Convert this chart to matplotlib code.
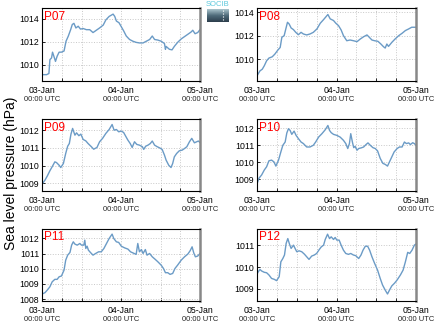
import numpy as np
import matplotlib
matplotlib.use('Agg')
import matplotlib.pyplot as plt
import matplotlib.dates as mdates
import pandas as pd

plt.rcParams['font.family'] = ['Liberation Sans', 'DejaVu Sans']

START = pd.Timestamp('2000-01-03 00:00')
STATIONS = ['P07', 'P08', 'P09', 'P10', 'P11', 'P12']

# hours since 03-Jan 00:00 UTC, sea level pressure (hPa)
p07_h = [0, 1.4, 2.1, 2.4, 2.9, 3.2, 3.6, 4.1, 4.6, 5.2, 5.9, 6.7, 7.3, 8.0, 8.7, 9.2, 9.7,
         10.3, 11.0, 11.7, 12.5, 13.5, 14.5, 15.5, 16.5, 17.5, 18.6, 19.4, 20.4, 21.6, 22.1,
         22.6, 23.4, 24.1, 24.8, 25.6, 26.6, 27.6, 28.6, 29.6, 30.7, 31.7, 32.7, 33.5, 34.2,
         35.2, 36.2, 37.2, 37.5, 37.7, 38.7, 39.5, 40.2, 41.2, 42.3, 43.3, 44.3, 45.3, 45.8,
         46.5, 47.3, 48]
p07_v = [1009.15, 1009.15, 1009.25, 1010.45, 1010.6, 1011.1, 1010.75, 1010.3, 1010.75,
         1011.1, 1011.1, 1011.2, 1012.05, 1012.5, 1013.05, 1013.5, 1013.6, 1013.2, 1013.35,
         1013.1, 1013.15, 1013.05, 1013.05, 1012.8, 1013.0, 1013.2, 1013.45, 1013.9, 1014.2,
         1014.4, 1014.2, 1013.8, 1013.65, 1013.3, 1012.95, 1012.5, 1012.2, 1012.05, 1011.95,
         1011.9, 1011.9, 1012.05, 1012.2, 1012.5, 1012.2, 1012.15, 1012.05, 1011.85, 1011.35,
         1011.6, 1011.35, 1011.3, 1011.6, 1011.95, 1012.25, 1012.45, 1012.65, 1012.85, 1013.0,
         1012.7, 1012.8, 1013.05]

p08_h = [0, 0.9, 1.6, 2.2, 2.9, 3.6, 4.6, 5.4, 6.3, 7.0, 7.5, 8.2, 8.7, 9.2, 9.7, 10.3, 11.0,
         11.7, 12.5, 13.3, 14.0, 15.0, 16.0, 17.0, 18.1, 19.1, 20.1, 21.4, 22.1, 23.1, 23.8,
         24.6, 25.4, 26.1, 27.1, 28.1, 29.1, 30.2, 31.2, 32.2, 33.2, 33.9, 34.7, 35.5, 36.5,
         37.4, 38.2, 38.7, 39.2, 39.7, 40.7, 41.7, 42.8, 43.8, 44.8, 45.8, 46.7, 48]
p08_v = [1008.6, 1009.02, 1009.16, 1009.45, 1009.87, 1010.1, 1010.21, 1010.44, 1010.78,
         1011.0, 1011.86, 1012.0, 1012.57, 1013.13, 1012.99, 1012.65, 1012.51, 1012.28,
         1012.08, 1012.28, 1012.14, 1012.06, 1012.14, 1012.28, 1012.57, 1013.05, 1013.36,
         1013.79, 1013.42, 1013.28, 1013.05, 1012.85, 1012.48, 1012.0, 1011.57, 1011.63,
         1011.57, 1011.49, 1011.72, 1011.91, 1012.06, 1011.86, 1011.63, 1011.57, 1011.52,
         1011.29, 1011.06, 1010.95, 1011.29, 1011.09, 1011.43, 1011.72, 1012.0, 1012.2,
         1012.43, 1012.57, 1012.71, 1012.71]

p09_h = [0, 0.9, 1.6, 2.4, 3.2, 3.9, 4.4, 5.2, 5.7, 6.5, 7.2, 7.8, 8.3, 8.8, 9.3, 10.0, 10.5,
         11.2, 11.8, 12.5, 13.3, 14.0, 15.0, 15.7, 16.7, 17.5, 18.4, 19.4, 20.4, 21.3, 21.9,
         22.6, 23.3, 24.1, 24.8, 25.4, 26.1, 26.8, 27.4, 28.1, 28.8, 29.6, 30.5, 30.9, 31.5,
         32.2, 32.9, 33.5, 34.2, 35.0, 35.7, 36.5, 37.2, 37.7, 38.5, 39.2, 39.7, 40.2, 40.9,
         41.7, 42.6, 43.3, 44.0, 44.8, 45.5, 46.3, 47.0, 47.5, 48]
p09_v = [1008.95, 1009.18, 1009.41, 1009.71, 1009.97, 1010.21, 1010.17, 1010.02, 1009.89,
         1010.12, 1010.68, 1011.09, 1011.24, 1011.77, 1012.09, 1011.71, 1011.84, 1011.68,
         1011.77, 1011.47, 1011.39, 1011.24, 1011.06, 1010.92, 1011.02, 1011.34, 1011.53,
         1011.81, 1012.03, 1012.31, 1011.99, 1012.03, 1011.9, 1011.94, 1011.86, 1011.66,
         1011.43, 1011.24, 1011.02, 1011.34, 1011.19, 1011.15, 1011.06, 1010.91, 1011.09,
         1011.15, 1011.24, 1011.38, 1011.15, 1011.06, 1011.0, 1010.91, 1010.59, 1010.31,
         1010.02, 1009.89, 1010.12, 1010.49, 1010.68, 1010.83, 1010.87, 1010.96, 1011.06,
         1011.34, 1011.53, 1011.28, 1011.34, 1011.38, 1011.3]

p10_h = [0, 0.6, 1.4, 2.2, 2.9, 3.6, 4.4, 5.1, 5.7, 6.5, 7.2, 7.8, 8.5, 9.0, 9.5, 10.0, 10.5,
         11.2, 11.8, 12.5, 13.3, 14.0, 15.0, 16.0, 17.0, 17.7, 18.6, 19.6, 20.6, 21.4, 21.9,
         22.4, 23.1, 24.1, 25.1, 26.1, 26.8, 27.4, 27.9, 28.3, 28.8, 29.2, 29.6, 30.2, 30.7,
         31.5, 32.2, 32.9, 33.5, 34.2, 35.0, 35.7, 36.4, 37.2, 38.0, 38.7, 39.4, 40.0, 40.7,
         41.4, 42.3, 43.0, 43.8, 44.5, 45.1, 45.8, 46.3, 47.0, 47.5, 48]
p10_v = [1008.74, 1009.07, 1009.26, 1009.55, 1009.74, 1010.09, 1010.13, 1010.03, 1009.78,
         1010.13, 1010.61, 1011.0, 1011.19, 1011.72, 1011.97, 1011.87, 1011.64, 1011.83,
         1011.58, 1011.39, 1011.19, 1011.1, 1010.9, 1010.9, 1011.0, 1011.19, 1011.48, 1011.68,
         1011.91, 1012.16, 1011.87, 1011.74, 1011.64, 1011.58, 1011.48, 1011.29, 1011.1,
         1010.81, 1011.1, 1011.68, 1011.19, 1010.86, 1010.94, 1010.71, 1010.81, 1010.85,
         1010.9, 1011.04, 1011.14, 1011.0, 1010.86, 1010.81, 1010.67, 1010.23, 1009.94,
         1009.88, 1009.78, 1010.03, 1010.32, 1010.61, 1010.81, 1010.9, 1010.9, 1011.19,
         1011.1, 1011.14, 1011.04, 1011.15, 1011.1, 1011.0]

p11_h = [0, 0.9, 1.6, 2.4, 3.1, 3.9, 4.6, 5.2, 5.9, 6.7, 7.2, 7.8, 8.5, 9.0, 9.5, 10.0, 10.7,
         11.5, 12.0, 12.7, 13.0, 13.3, 13.7, 14.1, 14.7, 15.5, 16.3, 17.2, 18.0, 18.8, 19.6,
         20.4, 21.3, 21.8, 22.6, 23.3, 24.1, 25.1, 26.1, 26.9, 27.6, 28.6, 29.1, 29.6, 30.2,
         30.7, 31.4, 31.9, 32.7, 33.5, 34.4, 35.2, 36.2, 36.9, 37.5, 38.2, 38.9, 39.7, 40.4,
         41.2, 42.3, 43.3, 44.3, 45.0, 45.6, 46.1, 46.6, 47.3, 48]
p11_v = [1008.33, 1008.42, 1008.59, 1008.81, 1009.14, 1009.3, 1009.3, 1009.47, 1009.52,
         1009.91, 1010.57, 1010.9, 1011.08, 1011.56, 1011.78, 1011.63, 1011.56, 1011.67,
         1011.56, 1011.56, 1011.89, 1011.34, 1011.49, 1011.23, 1011.08, 1010.9, 1011.01,
         1011.12, 1011.12, 1011.34, 1011.67, 1012.0, 1012.29, 1012.0, 1011.78, 1011.74,
         1011.49, 1011.38, 1011.3, 1011.12, 1011.05, 1010.95, 1011.67, 1011.12, 1011.27,
         1011.01, 1011.27, 1010.9, 1011.01, 1010.79, 1010.62, 1010.46, 1010.24, 1010.02,
         1009.74, 1009.74, 1009.63, 1009.69, 1010.02, 1010.24, 1010.57, 1010.79, 1010.97,
         1011.19, 1011.45, 1011.05, 1010.79, 1010.84, 1011.01]

p12_h = [0, 0.4, 0.9, 1.4, 2.2, 2.9, 3.6, 4.4, 5.2, 5.9, 6.7, 7.2, 7.8, 8.3, 8.8, 9.3, 9.8,
         10.3, 11.0, 11.5, 12.0, 12.7, 13.5, 14.3, 15.0, 15.7, 16.5, 17.3, 18.0, 18.8, 19.4,
         20.1, 20.6, 21.3, 21.9, 22.4, 23.1, 23.6, 24.1, 24.8, 25.4, 26.1, 26.8, 27.6, 28.3,
         29.1, 29.8, 30.7, 31.4, 32.0, 32.7, 33.4, 34.0, 34.7, 35.5, 36.4, 37.2, 37.9, 38.7,
         39.4, 40.0, 40.7, 41.5, 42.3, 43.3, 44.1, 44.8, 45.5, 46.1, 46.8, 47.5, 48]
p12_v = [1009.68, 1009.79, 1009.89, 1009.82, 1009.76, 1009.74, 1009.64, 1009.48, 1009.44,
         1009.38, 1009.56, 1010.24, 1010.39, 1010.55, 1011.08, 1011.3, 1011.05, 1010.85,
         1011.0, 1010.85, 1010.7, 1010.74, 1010.7, 1010.59, 1010.47, 1010.35, 1010.5, 1010.55,
         1010.62, 1010.8, 1010.92, 1011.0, 1011.26, 1011.5, 1011.3, 1011.38, 1011.26, 1011.35,
         1011.23, 1011.23, 1011.0, 1010.77, 1010.62, 1010.58, 1010.62, 1010.55, 1010.52,
         1010.39, 1010.55, 1010.77, 1010.95, 1010.95, 1010.77, 1010.47, 1010.17, 1009.86,
         1009.48, 1009.18, 1008.95, 1008.77, 1008.95, 1009.14, 1009.26, 1009.41, 1009.64,
         1009.86, 1010.24, 1010.67, 1010.62, 1010.77, 1011.0, 1011.05]

SERIES = [(p07_h, p07_v), (p08_h, p08_v), (p09_h, p09_v),
          (p10_h, p10_v), (p11_h, p11_v), (p12_h, p12_v)]
YLIMS = [(1008.6, 1014.93), (1008.16, 1014.34), (1008.57, 1012.62),
         (1008.32, 1012.54), (1007.87, 1012.66), (1008.45, 1011.76)]
YTICKS = [[1010, 1012, 1014], [1010, 1012, 1014], [1009, 1010, 1011, 1012],
          [1009, 1010, 1011, 1012], [1008, 1009, 1010, 1011, 1012], [1009, 1010, 1011]]

W, H = 435, 327
LINE_COLOR = '#6b9bc6'

fig = plt.figure(figsize=(W / 100, H / 100), dpi=100)

# axes boxes in pixels: (left, right) / (top, bottom)
cols = [(42, 200), (257, 416)]
rows = [(8, 81), (119, 191), (228.5, 301)]

for i, name in enumerate(STATIONS):
    r, c = divmod(i, 2)
    x0, x1 = cols[c]
    y0, y1 = rows[r]
    ax = fig.add_axes([x0 / W, 1 - y1 / H, (x1 - x0) / W, (y1 - y0) / H])
    hrs, vals = SERIES[i]
    t = START + pd.to_timedelta(hrs, unit='h')
    ax.plot(t, vals, color=LINE_COLOR, linewidth=1.0)
    ax.set_xlim(START, START + pd.Timedelta(hours=48))
    ax.set_ylim(*YLIMS[i])
    ax.set_yticks(YTICKS[i])
    ax.set_yticklabels([str(v) for v in YTICKS[i]], fontsize=6.3)

    ax.xaxis.set_major_locator(mdates.HourLocator(byhour=[0]))
    ax.xaxis.set_minor_locator(mdates.HourLocator(byhour=[6, 12, 18]))
    ax.set_xticklabels([])
    for j, lab in enumerate(['03-Jan', '04-Jan', '05-Jan']):
        xf = j / 2
        ax.text(xf, -0.065, lab, transform=ax.transAxes, ha='center', va='top',
                fontsize=6.3)
        ax.text(xf, -0.21, '00:00 UTC', transform=ax.transAxes, ha='center',
                va='top', fontsize=5.4, color='#222222')

    ax.grid(True, which='both', color='#c8c8c8', linestyle=':', linewidth=0.7)
    ax.tick_params(which='both', direction='in', length=2, width=0.6, pad=2)
    ax.tick_params(axis='x', which='both', top=False)
    for s in ['left', 'top', 'bottom']:
        ax.spines[s].set_linewidth(0.8)
    ax.spines['right'].set_color('#888888')
    ax.spines['right'].set_linewidth(1.8)

    ax.text(0.015, 0.965, name, transform=ax.transAxes, ha='left', va='top',
            color='red', fontsize=8.5)

fig.text(11 / W, 1 - 173 / H, 'Sea level pressure (hPa)', rotation=90,
         ha='center', va='center', fontsize=10)

# small logo at the top
lax = fig.add_axes([207 / W, 1 - 22 / H, 22 / W, 13 / H])
grad = np.linspace(0, 1, 50).reshape(-1, 1)
lax.imshow(grad, aspect='auto', cmap=matplotlib.colors.LinearSegmentedColormap.from_list(
    'logo', ['#a9c4cc', '#4e6a7a', '#2c3e4c']), extent=(0, 1, 0, 1))
lax.plot([0.72, 0.72], [0.15, 0.9], color='white', linestyle=':', linewidth=0.8)
lax.set_xlim(0, 1)
lax.set_ylim(0, 1)
lax.axis('off')
fig.text(218 / W, 1 - 5 / H, 'SOCIB', color='#5cc8dc', ha='center', va='center',
         fontsize=5.5)

fig.savefig('out.png', dpi=100)
